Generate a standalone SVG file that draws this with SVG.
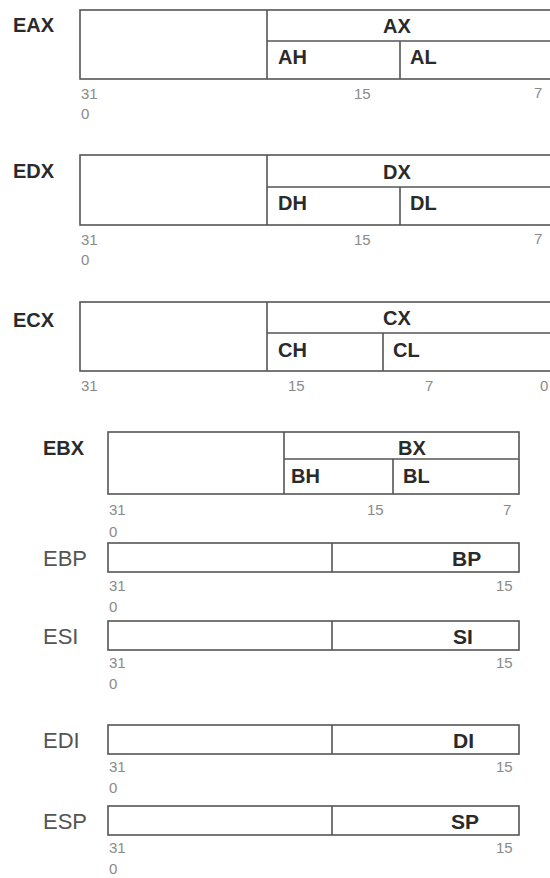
<svg xmlns="http://www.w3.org/2000/svg" width="550" height="878" viewBox="0 0 550 878">
<style>
.bx{fill:#fff;stroke:#555;stroke-width:1.6}
.ln{stroke:#555;stroke-width:1.6;fill:none}
.rb{font-family:"Liberation Sans",Arial,sans-serif;font-weight:bold;font-size:20px;fill:#2a2a2a}
.rn{font-family:"Liberation Sans",Arial,sans-serif;font-size:22px;fill:#555}
.sb{font-family:"Liberation Sans",Arial,sans-serif;font-weight:bold;font-size:21px;fill:#2a2a2a}
.nm{font-family:"Liberation Sans",Arial,sans-serif;font-size:15px;fill:#8a8a8a}
</style>
<rect width="550" height="878" fill="#fff"/>
<g id="eax">
<rect class="bx" x="80" y="10" width="480" height="69"/>
<line class="ln" x1="267" y1="10" x2="267" y2="79"/>
<line class="ln" x1="267" y1="41" x2="560" y2="41"/>
<line class="ln" x1="400" y1="41" x2="400" y2="79"/>
<text class="rb" x="13" y="32">EAX</text>
<text class="rb" x="383" y="33">AX</text>
<text class="rb" x="278" y="64">AH</text>
<text class="rb" x="410" y="64">AL</text>
<text class="nm" x="81" y="99">31</text>
<text class="nm" x="354" y="99">15</text>
<text class="nm" x="534" y="98">7</text>
<text class="nm" x="81" y="119">0</text>
</g>
<g id="edx">
<rect class="bx" x="80" y="155" width="480" height="70"/>
<line class="ln" x1="267" y1="155" x2="267" y2="225"/>
<line class="ln" x1="267" y1="187" x2="560" y2="187"/>
<line class="ln" x1="400" y1="187" x2="400" y2="225"/>
<text class="rb" x="13" y="178">EDX</text>
<text class="rb" x="383" y="179">DX</text>
<text class="rb" x="278" y="210">DH</text>
<text class="rb" x="410" y="210">DL</text>
<text class="nm" x="81" y="245">31</text>
<text class="nm" x="354" y="245">15</text>
<text class="nm" x="534" y="244">7</text>
<text class="nm" x="81" y="265">0</text>
</g>
<g id="ecx">
<rect class="bx" x="80" y="302" width="480" height="69"/>
<line class="ln" x1="267" y1="302" x2="267" y2="371"/>
<line class="ln" x1="267" y1="333" x2="560" y2="333"/>
<line class="ln" x1="383" y1="333" x2="383" y2="371"/>
<text class="rb" x="13" y="327">ECX</text>
<text class="rb" x="383" y="325">CX</text>
<text class="rb" x="278" y="357">CH</text>
<text class="rb" x="393" y="357">CL</text>
<text class="nm" x="81" y="391">31</text>
<text class="nm" x="288" y="391">15</text>
<text class="nm" x="425" y="391">7</text>
<text class="nm" x="540" y="391">0</text>
</g>
<g id="ebx">
<rect class="bx" x="108" y="432" width="411" height="62"/>
<line class="ln" x1="284" y1="432" x2="284" y2="494"/>
<line class="ln" x1="284" y1="459" x2="519" y2="459"/>
<line class="ln" x1="393" y1="459" x2="393" y2="494"/>
<text class="rb" x="43" y="455">EBX</text>
<text class="rb" x="398" y="455">BX</text>
<text class="rb" x="291" y="483">BH</text>
<text class="rb" x="403" y="483">BL</text>
<text class="nm" x="109" y="515">31</text>
<text class="nm" x="367" y="515">15</text>
<text class="nm" x="503" y="515">7</text>
<text class="nm" x="109" y="537">0</text>
</g>
<g id="ebp">
<rect class="bx" x="108" y="543" width="411" height="29"/>
<line class="ln" x1="332" y1="543" x2="332" y2="572"/>
<text class="rn" x="43" y="566">EBP</text>
<text class="sb" x="452" y="566">BP</text>
<text class="nm" x="109" y="591">31</text>
<text class="nm" x="496" y="591">15</text>
<text class="nm" x="109" y="612">0</text>
</g>
<g id="esi">
<rect class="bx" x="108" y="621" width="411" height="29"/>
<line class="ln" x1="332" y1="621" x2="332" y2="650"/>
<text class="rn" x="43" y="644">ESI</text>
<text class="sb" x="453" y="644">SI</text>
<text class="nm" x="109" y="668">31</text>
<text class="nm" x="496" y="668">15</text>
<text class="nm" x="109" y="689">0</text>
</g>
<g id="edi">
<rect class="bx" x="108" y="725" width="411" height="29"/>
<line class="ln" x1="332" y1="725" x2="332" y2="754"/>
<text class="rn" x="43" y="748">EDI</text>
<text class="sb" x="453" y="748">DI</text>
<text class="nm" x="109" y="772">31</text>
<text class="nm" x="496" y="772">15</text>
<text class="nm" x="109" y="793">0</text>
</g>
<g id="esp">
<rect class="bx" x="108" y="806" width="411" height="29"/>
<line class="ln" x1="332" y1="806" x2="332" y2="835"/>
<text class="rn" x="43" y="829">ESP</text>
<text class="sb" x="451" y="829">SP</text>
<text class="nm" x="109" y="853">31</text>
<text class="nm" x="496" y="853">15</text>
<text class="nm" x="109" y="874">0</text>
</g>
<g id="connectors"></g>
</svg>
